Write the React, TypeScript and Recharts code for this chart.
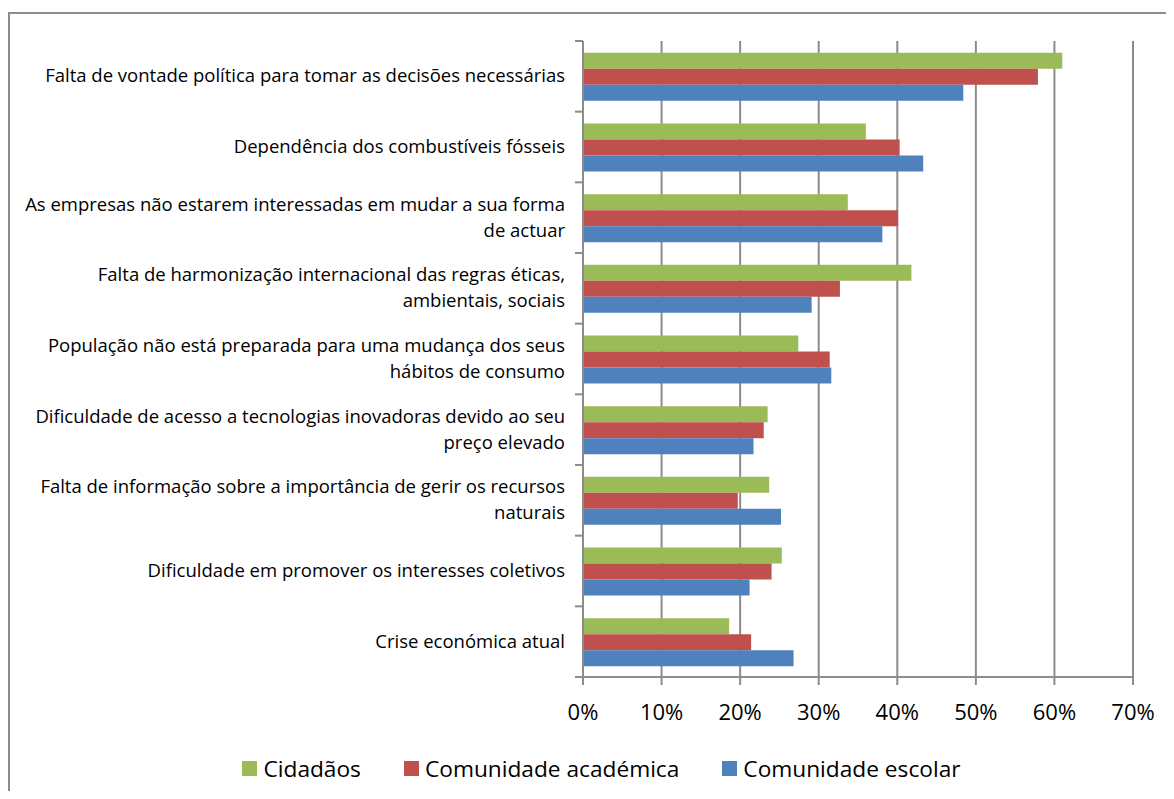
import React from 'react';
import { BarChart, Bar, XAxis, YAxis, CartesianGrid, Legend } from 'recharts';

const categories = [
  'Falta de vontade política para tomar as decisões necessárias',
  'Dependência dos combustíveis fósseis',
  'As empresas não estarem interessadas em mudar a sua forma\nde actuar',
  'Falta de harmonização internacional das regras éticas,\nambientais, sociais',
  'População não está preparada para uma mudança dos seus\nhábitos de consumo',
  'Dificuldade de acesso a tecnologias inovadoras devido ao seu\npreço elevado',
  'Falta de informação sobre a importância de gerir os recursos\nnaturais',
  'Dificuldade em promover os interesses coletivos',
  'Crise económica atual',
];
const cidadaos = [0.61, 0.36, 0.337, 0.418, 0.274, 0.235, 0.237, 0.253, 0.186];
const academica = [0.579, 0.403, 0.401, 0.327, 0.314, 0.23, 0.197, 0.24, 0.214];
const escolar = [0.484, 0.433, 0.381, 0.291, 0.316, 0.217, 0.252, 0.212, 0.268];
const xTicks = [0, 0.1, 0.2, 0.3, 0.4, 0.5, 0.6, 0.7];
const seriesKeys = ['cidadaos', 'academica', 'escolar'];
const seriesNames = ['Cidadãos', 'Comunidade académica', 'Comunidade escolar'];
const seriesColors = ['#9BBB59', '#C0504D', '#4F81BD'];

const data = categories.map((name, i) => ({
  name,
  cidadaos: cidadaos[i],
  academica: academica[i],
  escolar: escolar[i],
}));

const FONT = '"Open Sans", Lato, sans-serif';
const GRID = '#8c8c8c';

const CategoryTick = (props: any) => {
  const { x, y, payload, index, visibleTicksCount } = props;
  const half = payload && typeof payload.offset === 'number' && payload.offset > 0 ? payload.offset : 35.33;
  const lines = String(payload.value).split('\n');
  const n = lines.length;
  return (
    <g>
      <line x1={x - 8} x2={x} y1={y - half} y2={y - half} stroke={GRID} strokeWidth={2} />
      {index === visibleTicksCount - 1 && (
        <line x1={x - 8} x2={x} y1={y + half} y2={y + half} stroke={GRID} strokeWidth={2} />
      )}
      <text x={x - 18} y={y} textAnchor="end" fontFamily={FONT} fontSize={18.5} fill="#000">
        {lines.map((l, i) => (
          <tspan key={i} x={x - 18} y={y + 6 + (i - (n - 1) / 2) * 26}>
            {l}
          </tspan>
        ))}
      </text>
    </g>
  );
};

const LegendContent = () => (
  <div
    style={{
      display: 'flex',
      justifyContent: 'center',
      alignItems: 'center',
      paddingLeft: 29,
      height: 32,
      fontFamily: FONT,
      fontSize: 22.7,
      color: '#000',
    }}
  >
    {seriesNames.map((n, i) => (
      <div key={n} style={{ display: 'flex', alignItems: 'center', marginLeft: i === 0 ? 0 : 43 }}>
        <span style={{ display: 'inline-block', width: 15, height: 15, background: seriesColors[i], marginRight: 6 }} />
        <span>{n}</span>
      </div>
    ))}
  </div>
);

export default function App() {
  return (
    <div style={{ position: 'relative', width: 1158, height: 783 }}>
      <div
        style={{
          position: 'absolute',
          left: 0,
          top: 4,
          width: 1158,
          height: 779,
          borderLeft: `2px solid ${GRID}`,
          borderTop: `2px solid ${GRID}`,
          boxSizing: 'border-box',
          pointerEvents: 'none',
        }}
      />
      <BarChart
        width={1158}
        height={783}
        data={data}
        layout="vertical"
        margin={{ top: 33, right: 33, left: 0, bottom: 0 }}
        barGap={0}
        barCategoryGap="16.7%"
      >
        <CartesianGrid horizontal={false} stroke={GRID} strokeWidth={2} />
        <XAxis
          type="number"
          domain={[0, 0.7]}
          ticks={xTicks}
          tickFormatter={(v: number) => `${Math.round(v * 100)}%`}
          tickSize={8}
          tickMargin={19}
          height={114}
          stroke={GRID}
          strokeWidth={2}
          tick={{ fontFamily: FONT, fontSize: 22, fill: '#000' }}
          interval={0}
        />
        <YAxis
          type="category"
          dataKey="name"
          width={575}
          tickLine={false}
          tickSize={0}
          tickMargin={0}
          stroke={GRID}
          strokeWidth={2}
          tick={<CategoryTick />}
          interval={0}
        />
        {seriesKeys.map((k, i) => (
          <Bar key={k} dataKey={k} name={seriesNames[i]} fill={seriesColors[i]} isAnimationActive={false} />
        ))}
        <Legend
          verticalAlign="middle"
          align="center"
          layout="horizontal"
          wrapperStyle={{ top: 744, left: 0, width: 1158, height: 32 }}
          content={<LegendContent />}
        />
      </BarChart>
    </div>
  );
}
